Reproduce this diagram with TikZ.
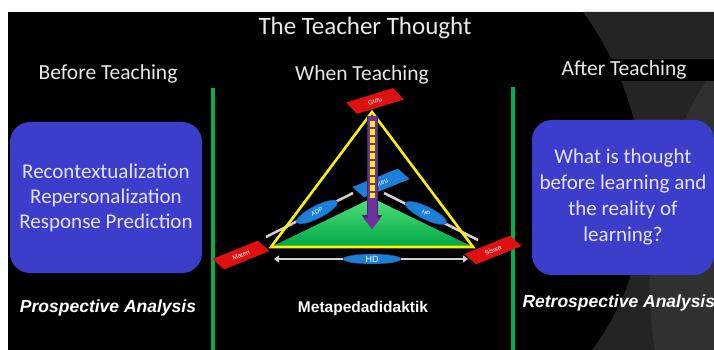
\documentclass[tikz,border=0pt]{standalone}
\usepackage{fontspec}
\setmainfont{Carlito}
\newfontfamily\arialf{Liberation Sans}
\usetikzlibrary{arrows.meta,shapes.geometric}
\definecolor{gline}{HTML}{00B050}
\definecolor{boxblue}{HTML}{3D3DCC}
\definecolor{boxtext}{HTML}{E2E2F4}
\definecolor{headtext}{HTML}{E8E8E8}
\definecolor{tagred}{HTML}{E01010}
\definecolor{ellblue}{HTML}{1E7FD8}
\definecolor{arrpurple}{HTML}{7030A0}
\definecolor{gtop}{HTML}{4FE07A}
\definecolor{gbot}{HTML}{00A846}
\definecolor{swoosha}{HTML}{242424}
\definecolor{swooshb}{HTML}{303030}
\tikzset{
  headtxt/.style={text=headtext, font=\fontsize{21.5}{24}\selectfont, inner sep=1pt},
  greenbar/.style={draw=gline, line width=4.5pt},
  bluebox/.style={fill=boxblue, rounded corners=20pt, text=boxtext, align=center,
    font=\fontsize{21}{25}\selectfont},
  analysis/.style={text=white, font=\arialf\bfseries\itshape\fontsize{17.5}{20}\selectfont},
  tagtext/.style={text=white, font=\arialf\fontsize{6.5}{6.5}\selectfont, inner sep=0pt},
  ellipsetag/.style={ellipse, fill=ellblue, draw=ellblue!60!black, line width=0.4pt, text=white,
    font=\arialf\fontsize{6}{6}\selectfont, minimum width=46pt, minimum height=13pt, inner sep=0pt},
  grayline/.style={draw=white!82!black, line width=2.5pt},
  tagshape/.pic={
    \fill[#1] (-28,-7) -- (21,-7) -- (28,7) -- (-21,7) -- cycle;
  },
}
\begin{document}
\begin{tikzpicture}[x=1pt,y=-1pt]
\useasboundingbox (0,0) rectangle (714,350);
\fill[white] (0,0) rectangle (714,350);
\fill[black] (8,12) rectangle (714,350);
% background swooshes
\fill[swoosha] (583,12) .. controls (655,110) and (668,250) .. (592,350) -- (714,350) -- (714,12) -- cycle;
\fill[swooshb] (714,70) .. controls (655,150) and (640,260) .. (655,350) -- (714,350) -- cycle;

% headings
\node[headtxt, font=\fontsize{25}{28}\selectfont] (title) at (365,28) {The Teacher Thought};
\node[headtxt] (before) at (108,74) {Before Teaching};
\node[headtxt] (when) at (362,75) {When Teaching};
\node[headtxt, fill=black, minimum width=158pt, inner sep=2pt] (after) at (635,70) {\hspace*{-22pt}After Teaching};

% green separators
\coordinate (b1t) at (213,88); \coordinate (b1b) at (213,350);
\coordinate (b2t) at (513,87); \coordinate (b2b) at (513,350);
\draw[greenbar] (b1t) -- (b1b);
\draw[greenbar] (b2t) -- (b2b);

% blue boxes
\node[bluebox, minimum width=192pt, minimum height=151pt] (leftbox) at (106,197.5)
  {Recontextualization\\Repersonalization\\Response Prediction};
\node[bluebox, minimum width=182pt, minimum height=155pt, font=\fontsize{21}{26}\selectfont] (rightbox) at (623,197.5)
  {What is thought\\before learning and\\the reality of\\learning?};

% bottom labels
\node[analysis] (pros) at (108,308) {Prospective Analysis};
\node[analysis, font=\arialf\bfseries\fontsize{15.5}{18}\selectfont] (meta) at (363,308) {Metapedadidaktik};
\node[analysis, anchor=west] (retro) at (519,303) {Retrospective Analysis};

% triangle vertices
\coordinate (G) at (372,112);
\coordinate (M) at (271,247);
\coordinate (S) at (473,247);
\coordinate (C) at (372,198);

% gray relation lines
\coordinate (adp1) at (266,237); \coordinate (adp2) at (353,193);
\coordinate (hp1) at (384,193); \coordinate (hp2) at (478,240);
\coordinate (hd1) at (274,259); \coordinate (hd2) at (468,259);
\draw[grayline] (adp1) -- (adp2);
\draw[grayline] (hp1) -- (hp2);
\draw[grayline, {Triangle[length=5pt,width=7pt]}-{Triangle[length=5pt,width=7pt]}] (hd1) -- (hd2);
\node[ellipsetag, rotate=27] (adp) at (317,212) {ADP};
\node[ellipsetag, rotate=-26] (hp) at (426,213) {HP};
\node[ellipsetag, minimum width=58pt, minimum height=10pt, font=\arialf\fontsize{9}{9}\selectfont] (hd) at (372,259) {HD};

% green inner triangle
\shade[top color=gtop, bottom color=gbot, shading angle=0] (C) -- (M) -- (S) -- cycle;

% blue centre tag
\pic[rotate=22] at (381,183) {tagshape=ellblue};
\node[tagtext, rotate=22] (mid) at (381,183) {Guru};

% yellow triangle
\draw[yellow, line width=2.6pt, line join=miter] (G) -- (M) -- (S) -- cycle;

% purple arrow with yellow dashes
\coordinate (arrs) at (372,116);
\coordinate (arre) at (372,228);
\draw[arrpurple!70!black, line width=11pt, -{Triangle[length=13pt,width=20pt]}] (arrs) -- (arre);
\draw[arrpurple, line width=9pt, -{Triangle[length=11pt,width=16pt]}] (arrs) -- ([yshift=-1.2pt]arre);
\draw[yellow, line width=5pt, dash pattern=on 6pt off 2pt] (372,121) -- (C);

% red tags
\pic[rotate=17] at (375,101) {tagshape=tagred};
\node[tagtext, rotate=17] (guru) at (375,101) {Guru};
\pic[rotate=22] at (241,255) {tagshape=tagred};
\node[tagtext, rotate=22] (materi) at (241,255) {Materi};
\pic[rotate=22] at (493,250) {tagshape=tagred};
\node[tagtext, rotate=22] (siswa) at (493,250) {Siswa};
\end{tikzpicture}
\end{document}
